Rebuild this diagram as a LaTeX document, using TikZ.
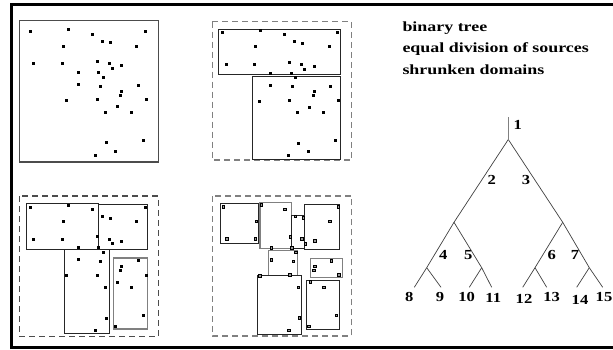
\documentclass[tikz,border=0pt]{standalone}
\usepackage{fontspec}
\setmainfont{Liberation Serif}
\begin{document}
\begin{tikzpicture}[x=1pt,y=-1pt,
  frame/.style={line width=3pt, draw=black},
  dom/.style={draw=black!85, line width=0.9pt},
  domg/.style={draw=black!50, line width=1.1pt},
  dashbox/.style={draw=black!50, dash pattern=on 6pt off 4pt, line width=1.2pt},
  dashdark/.style={draw=black!70, dash pattern=on 6pt off 4pt, line width=1.3pt},
  branch/.style={draw=black!75, line width=0.7pt},
  rootline/.style={draw=black!50, line width=1.4pt},
  lab/.style={font=\bfseries\fontsize{13.8}{14}\selectfont, inner sep=0pt, anchor=base},
  head/.style={font=\bfseries\fontsize{14}{15}\selectfont, inner sep=0pt, anchor=base west}]
\useasboundingbox (0,0) rectangle (613,350);
\def\srclist{30.3/32, 68.3/30, 92/34.3, 145.3/32, 102.3/41.3, 110.3/43, 63.3/46.3, 136.7/46.3,
 33.7/64, 62.3/64, 97.3/61.7, 109/64, 112.3/68.7, 121.7/66, 78.3/72.7, 98.7/72.7, 103/77.3,
 78.3/84.7, 100.3/86.3, 138.3/85.7, 121.7/91.3, 120.7/95.3, 66.7/100.7, 97/100, 146/100,
 117.3/107, 105.3/112.3, 131/112.3, 143.3/140.3, 106.3/143, 115.7/151.3, 95.7/155.3}
% outer frame
\draw[frame] (616,4.5) -- (11,4.5) -- (11,347) -- (616,347);
% panel 1
\draw[domg, draw=black!70] (19.3,20.7) rectangle (158.7,162);
\foreach \x/\y in \srclist {\fill (\x-1.5,\y-1.5) rectangle (\x+1.5,\y+1.5);}
% panel 2
\draw[dashbox] (212.3,21.7) rectangle (351.7,160);
\draw[dom] (218.3,29.3) rectangle (340.3,74);
\draw[dom] (252.3,76.7) rectangle (340.3,159);
\begin{scope}[shift={(192.5,0.5)}]
\foreach \x/\y in \srclist {\fill (\x-1.5,\y-1.5) rectangle (\x+1.5,\y+1.5);}
\end{scope}
% panel 3
\draw[dashdark] (19.3,196) rectangle (158.3,336.3);
\draw[dom] (26.7,203.3) rectangle (98,249.3);
\draw[dom] (98.7,204.3) rectangle (147.3,249.3);
\draw[dom] (64.3,249.3) rectangle (109.3,333.3);
\draw[domg] (113.3,258) rectangle (147.7,329);
\begin{scope}[shift={(0,175)}]
\foreach \x/\y in \srclist {\fill (\x-1.5,\y-1.5) rectangle (\x+1.5,\y+1.5);}
\end{scope}
% panel 4
\draw[dashbox] (212.3,196) rectangle (351.7,336);
\draw[dom] (220.3,203.3) rectangle (258.3,243.7);
\draw[domg] (260,202.5) rectangle (291.3,248.3);
\draw[dom] (291.3,215.7) rectangle (304.3,248.3);
\draw[dom] (304.3,204.3) rectangle (339.3,249.3);
\draw[domg] (268.3,250.3) rectangle (297.7,275.7);
\draw[domg] (310.5,258.5) rectangle (342.3,277.7);
\draw[dom] (257.3,275.7) rectangle (301.3,334);
\draw[dom] (306.3,280.7) rectangle (339.3,329.3);
\begin{scope}[shift={(193,175)}]
\foreach \x/\y in \srclist {\filldraw[fill=black!40, draw=black, line width=0.6pt] (\x-1.3,\y-1.3) rectangle (\x+1.3,\y+1.3);}
\end{scope}
% header text
\node[head] (h1) at (402.3,31.7) {\scalebox{1.28}[1]{binary tree}};
\node[head] (h2) at (402.3,53) {\scalebox{1.28}[1]{equal division of sources}};
\node[head] (h3) at (402.3,75) {\scalebox{1.28}[1]{shrunken domains}};
% tree
\coordinate (t0) at (508.3,117.3);
\coordinate (t1) at (508.3,139.5);
\coordinate (t2) at (454,222.3);
\coordinate (t3) at (562.7,222.3);
\coordinate (t4) at (426.7,267.7);
\coordinate (t5) at (481.7,267.7);
\coordinate (t6) at (535,267.7);
\coordinate (t7) at (589.3,267.7);
\coordinate (t8) at (414.3,287.3);
\coordinate (t9) at (441,287.3);
\coordinate (t10) at (469.3,287.3);
\coordinate (t11) at (491.7,287.3);
\coordinate (t12) at (522.7,287.3);
\coordinate (t13) at (546.7,287.3);
\coordinate (t14) at (576.7,287.3);
\coordinate (t15) at (602.7,287.3);
\draw[rootline] (t0) -- (t1);
\draw[branch] (t1) -- (t2);
\draw[branch] (t1) -- (t3);
\draw[branch] (t2) -- (t4);
\draw[branch] (t2) -- (t5);
\draw[branch] (t3) -- (t6);
\draw[branch] (t3) -- (t7);
\draw[branch] (t4) -- (t8);
\draw[branch] (t4) -- (t9);
\draw[branch] (t5) -- (t10);
\draw[branch] (t5) -- (t11);
\draw[branch] (t6) -- (t12);
\draw[branch] (t6) -- (t13);
\draw[branch] (t7) -- (t14);
\draw[branch] (t7) -- (t15);
\node[lab] (l1) at (517.7,129.3) {\scalebox{1.2}[1]{1}};
\node[lab] (l2) at (491.7,184) {\scalebox{1.2}[1]{2}};
\node[lab] (l3) at (526,184) {\scalebox{1.2}[1]{3}};
\node[lab] (l4) at (443.3,259.3) {\scalebox{1.2}[1]{4}};
\node[lab] (l5) at (468.3,259.3) {\scalebox{1.2}[1]{5}};
\node[lab] (l6) at (551.7,259.3) {\scalebox{1.2}[1]{6}};
\node[lab] (l7) at (575,259.3) {\scalebox{1.2}[1]{7}};
\node[lab] (l8) at (409.3,301.7) {\scalebox{1.2}[1]{8}};
\node[lab] (l9) at (440,301.7) {\scalebox{1.2}[1]{9}};
\node[lab] (l10) at (466.7,301.7) {\scalebox{1.2}[1]{10}};
\node[lab] (l11) at (493.3,302.5) {\scalebox{1.2}[1]{11}};
\node[lab] (l12) at (524,303.5) {\scalebox{1.2}[1]{12}};
\node[lab] (l13) at (551.7,301) {\scalebox{1.2}[1]{13}};
\node[lab] (l14) at (580,304) {\scalebox{1.2}[1]{14}};
\node[lab] (l15) at (604,301.7) {\scalebox{1.2}[1]{15}};
\end{tikzpicture}
\end{document}
